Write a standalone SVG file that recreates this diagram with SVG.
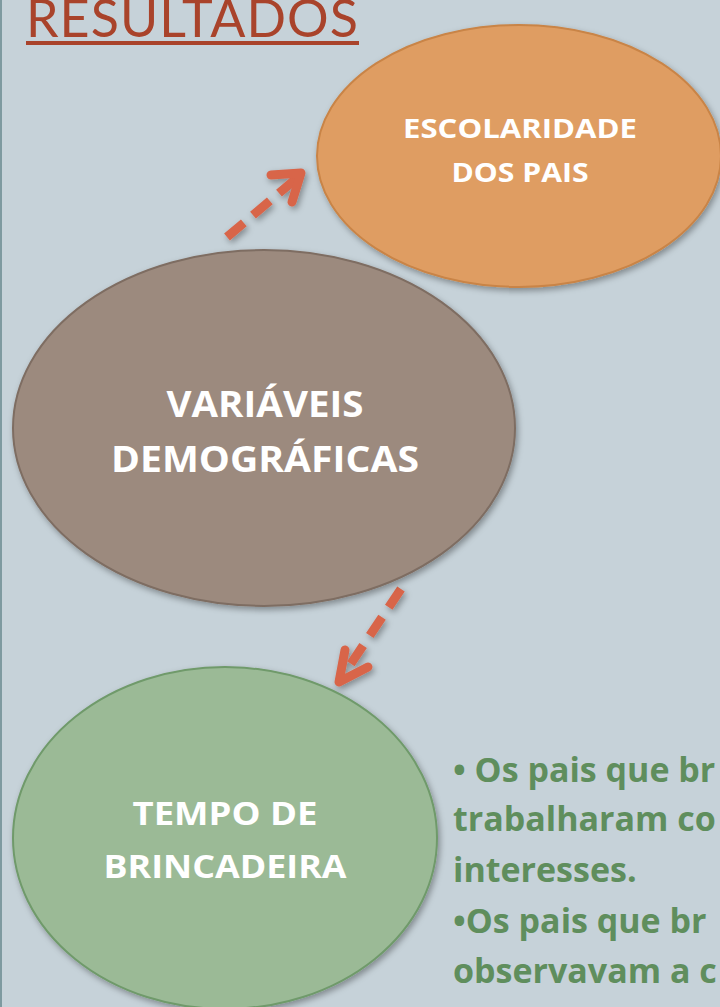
<svg xmlns="http://www.w3.org/2000/svg" width="720" height="1007" viewBox="0 0 720 1007">
<style>
.lbl{font-family:"Open Sans",Lato,"Liberation Sans",sans-serif;font-weight:bold;fill:#ffffff;text-anchor:middle}
.body{font-family:"Open Sans",Lato,"Liberation Sans",sans-serif;font-weight:bold;fill:#5F8E5D;font-size:34px}
.conn{stroke:#D8654A;stroke-width:9;fill:none}
</style>
<defs>
<filter id="sh" x="-20%" y="-20%" width="140%" height="140%">
<feDropShadow dx="2" dy="3" stdDeviation="3" flood-color="#000" flood-opacity="0.35"/>
</filter>
</defs>
<rect x="0" y="0" width="720" height="1007" fill="#C6D2D9"/>
<rect x="0" y="0" width="2" height="1007" fill="#7E9AA0"/>
<g id="title">
<text x="26" y="37" font-family="Lato,'Open Sans','Liberation Sans',sans-serif" font-size="52" fill="#A9432B" textLength="332">RESULTADOS</text>
<rect x="26" y="41" width="333" height="4" fill="#A9432B"/>
</g>
<g id="connectors" filter="url(#sh)">
<line class="conn" x1="227" y1="237" x2="297" y2="178" stroke-dasharray="22 12"/>
<polyline class="conn" points="271,175 301,173 292,202" stroke-linecap="round" stroke-linejoin="round"/>
<line class="conn" x1="401" y1="589" x2="344" y2="674" stroke-dasharray="22 12"/>
<polyline class="conn" points="345,650 339,682 368,667" stroke-linecap="round" stroke-linejoin="round"/>
</g>
<g id="escolaridade">
<ellipse cx="519" cy="156" rx="202" ry="131" fill="#DF9D62" stroke="#C98446" stroke-width="2" filter="url(#sh)"/>
<text class="lbl" x="520" y="138" font-size="27" textLength="234" lengthAdjust="spacingAndGlyphs">ESCOLARIDADE</text>
<text class="lbl" x="520" y="182" font-size="27" textLength="137" lengthAdjust="spacingAndGlyphs">DOS PAIS</text>
</g>
<g id="variaveis">
<ellipse cx="264" cy="428" rx="251" ry="178" fill="#9C8A7E" stroke="#7E6D62" stroke-width="2" filter="url(#sh)"/>
<text class="lbl" x="265" y="417" font-size="35" textLength="197" lengthAdjust="spacingAndGlyphs">VARIÁVEIS</text>
<text class="lbl" x="265" y="472" font-size="35" textLength="308" lengthAdjust="spacingAndGlyphs">DEMOGRÁFICAS</text>
</g>
<g id="tempo">
<ellipse cx="225" cy="838" rx="212" ry="171" fill="#9BBA96" stroke="#6F9A6B" stroke-width="2" filter="url(#sh)"/>
<text class="lbl" x="225" y="825" font-size="32" textLength="185" lengthAdjust="spacingAndGlyphs">TEMPO DE</text>
<text class="lbl" x="225" y="878" font-size="32" textLength="243" lengthAdjust="spacingAndGlyphs">BRINCADEIRA</text>
</g>
<g id="texto">
<text class="body" x="453" y="782">• Os pais que br</text>
<text class="body" x="453" y="831">trabalharam co</text>
<text class="body" x="453" y="882">interesses.</text>
<text class="body" x="453" y="933">•Os pais que br</text>
<text class="body" x="453" y="983">observavam a c</text>
</g>
</svg>
